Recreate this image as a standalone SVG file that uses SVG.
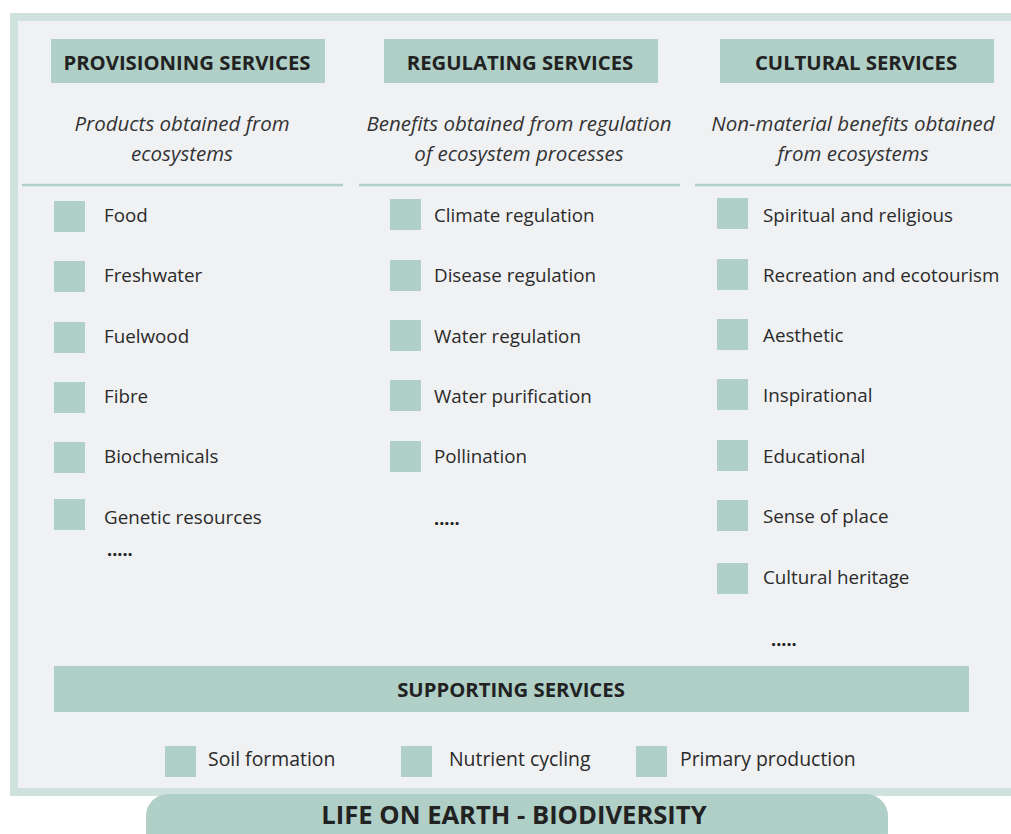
<svg xmlns="http://www.w3.org/2000/svg" width="1011" height="834" viewBox="0 0 1011 834">
<style>
.frame{fill:#f0f1f3;stroke:#cfe2dd;stroke-width:8}
.hdr{fill:#afcfc7}
.sq{fill:#afcfc7}
.div{stroke:#afcfc7;stroke-width:2.5}
.title{font-family:"Open Sans",sans-serif;font-weight:bold;font-size:20.3px;fill:#222;text-anchor:middle}
.sub{font-family:"Open Sans",sans-serif;font-style:italic;font-size:20.5px;fill:#333;text-anchor:middle}
.item{font-family:"Open Sans",sans-serif;font-size:18.8px;fill:#2a2a2a}
.bot{font-family:"Open Sans",sans-serif;font-size:19.4px;fill:#2a2a2a}
.dots{font-family:"Open Sans",sans-serif;font-weight:bold;font-size:18px;fill:#222}
.big{font-family:"Open Sans",sans-serif;font-weight:bold;font-size:25.6px;fill:#222;text-anchor:middle}
</style>
<rect width="1011" height="834" fill="#ffffff"/>
<rect class="frame" x="14" y="17" width="1010" height="775"/>
<g id="dividers">
<line class="div" x1="22" y1="185" x2="343" y2="185"/>
<line class="div" x1="359" y1="185" x2="680" y2="185"/>
<line class="div" x1="695" y1="185" x2="1011" y2="185"/>
</g>
<g id="provisioning">
<rect class="hdr" x="51" y="39" width="274" height="44"/>
<text class="title" x="187" y="70">PROVISIONING SERVICES</text>
<text class="sub" x="182" y="131">Products obtained from</text>
<text class="sub" x="182" y="161">ecosystems</text>
<rect class="sq" x="54" y="201" width="31" height="31"/><text class="item" x="104" y="222">Food</text>
<rect class="sq" x="54" y="261" width="31" height="31"/><text class="item" x="104" y="282">Freshwater</text>
<rect class="sq" x="54" y="322" width="31" height="31"/><text class="item" x="104" y="343">Fuelwood</text>
<rect class="sq" x="54" y="382" width="31" height="31"/><text class="item" x="104" y="403">Fibre</text>
<rect class="sq" x="54" y="442" width="31" height="31"/><text class="item" x="104" y="463">Biochemicals</text>
<rect class="sq" x="54" y="499" width="31" height="31"/><text class="item" x="104" y="524">Genetic resources</text>
<text class="dots" x="107" y="556">.....</text>
</g>
<g id="regulating">
<rect class="hdr" x="384" y="39" width="274" height="44"/>
<text class="title" x="520" y="70">REGULATING SERVICES</text>
<text class="sub" x="519" y="131">Benefits obtained from regulation</text>
<text class="sub" x="519" y="161">of ecosystem processes</text>
<rect class="sq" x="390" y="199" width="31" height="31"/><text class="item" x="434" y="222">Climate regulation</text>
<rect class="sq" x="390" y="260" width="31" height="31"/><text class="item" x="434" y="282">Disease regulation</text>
<rect class="sq" x="390" y="320" width="31" height="31"/><text class="item" x="434" y="343">Water regulation</text>
<rect class="sq" x="390" y="380" width="31" height="31"/><text class="item" x="434" y="403">Water purification</text>
<rect class="sq" x="390" y="441" width="31" height="31"/><text class="item" x="434" y="463">Pollination</text>
<text class="dots" x="434" y="525">.....</text>
</g>
<g id="cultural">
<rect class="hdr" x="720" y="39" width="274" height="44"/>
<text class="title" x="856" y="70">CULTURAL SERVICES</text>
<text class="sub" x="853" y="131">Non-material benefits obtained</text>
<text class="sub" x="853" y="161">from ecosystems</text>
<rect class="sq" x="717" y="198" width="31" height="31"/><text class="item" x="763" y="222">Spiritual and religious</text>
<rect class="sq" x="717" y="259" width="31" height="31"/><text class="item" x="763" y="282">Recreation and ecotourism</text>
<rect class="sq" x="717" y="319" width="31" height="31"/><text class="item" x="763" y="342">Aesthetic</text>
<rect class="sq" x="717" y="379" width="31" height="31"/><text class="item" x="763" y="402">Inspirational</text>
<rect class="sq" x="717" y="440" width="31" height="31"/><text class="item" x="763" y="463">Educational</text>
<rect class="sq" x="717" y="500" width="31" height="31"/><text class="item" x="763" y="523">Sense of place</text>
<rect class="sq" x="717" y="563" width="31" height="31"/><text class="item" x="763" y="584">Cultural heritage</text>
<text class="dots" x="771" y="646">.....</text>
</g>
<g id="supporting">
<rect class="hdr" x="54" y="666" width="915" height="46"/>
<text class="title" x="511" y="697">SUPPORTING SERVICES</text>
<rect class="sq" x="165" y="746" width="31" height="31"/><text class="bot" x="208" y="766">Soil formation</text>
<rect class="sq" x="401" y="746" width="31" height="31"/><text class="bot" x="449" y="766">Nutrient cycling</text>
<rect class="sq" x="636" y="746" width="31" height="31"/><text class="bot" x="680" y="766">Primary production</text>
</g>
<g id="life">
<rect class="hdr" x="146" y="794" width="742" height="60" rx="22"/>
<text class="big" x="514" y="824">LIFE ON EARTH - BIODIVERSITY</text>
</g>
</svg>
